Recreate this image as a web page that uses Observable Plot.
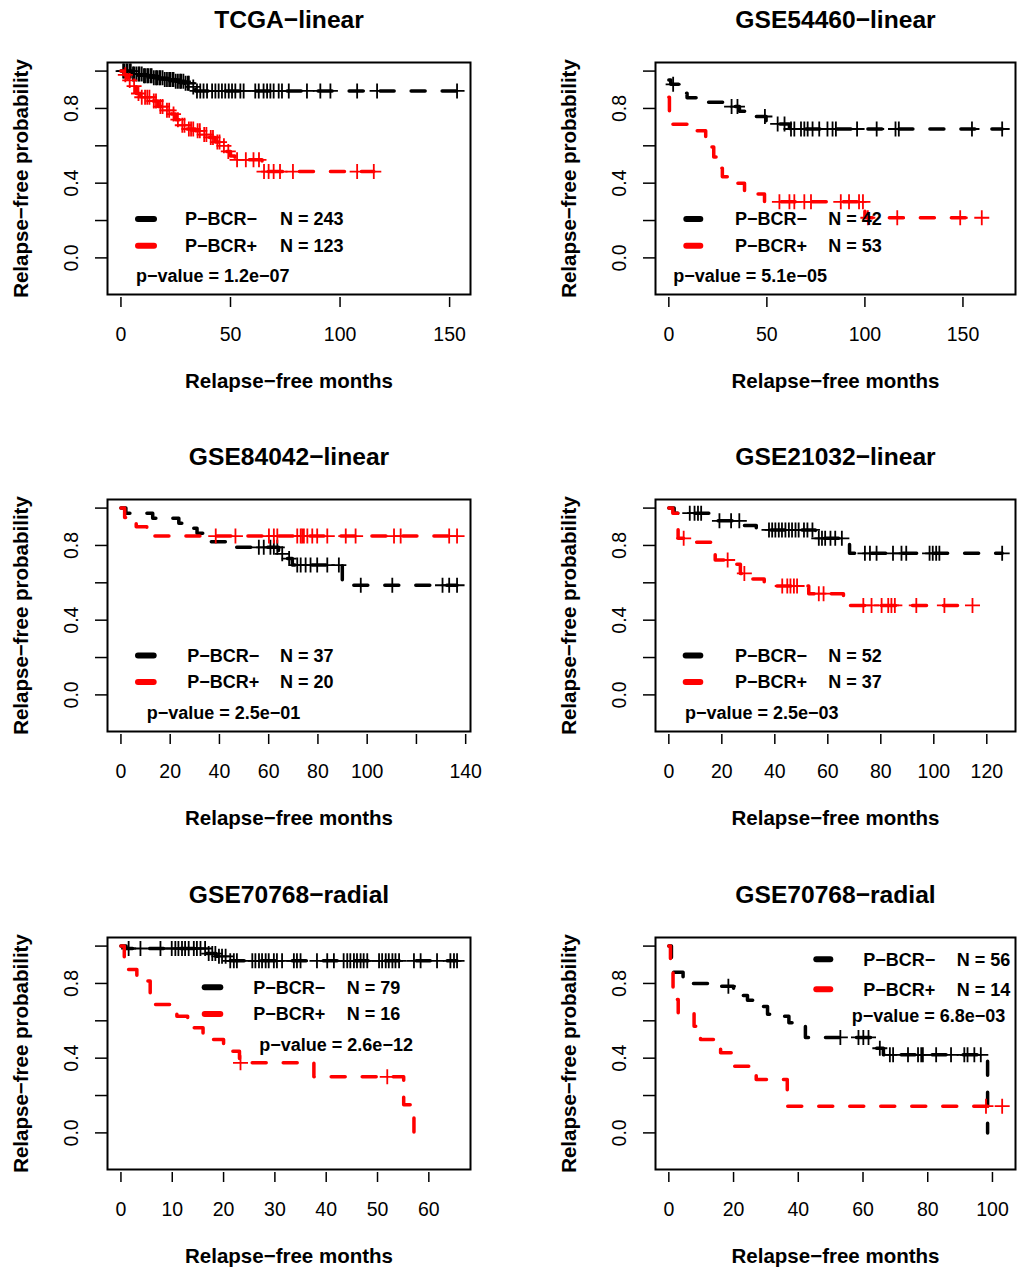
<!DOCTYPE html>
<html>
<head>
<meta charset="utf-8">
<script src="https://cdn.jsdelivr.net/npm/d3@7"></script>
<script src="https://cdn.jsdelivr.net/npm/@observablehq/plot@0.6"></script>
<style>
  html, body { margin: 0; padding: 0; background: #fff; overflow: hidden; }
  #page { position: relative; width: 1017px; height: 1270px; overflow: hidden; background: #fff; }
  .panel { position: absolute; }
</style>
</head>
<body>
<div id="page"></div>
<script>
// ---------- Kaplan–Meier curves: step times, survival after each step, censoring times ----------

// TCGA-linear
const tcgaNegTime = [0, 5, 10, 15, 20, 25, 29, 32, 34];
const tcgaNegSurv = [1, 0.985, 0.975, 0.965, 0.955, 0.945, 0.935, 0.915, 0.894];
const tcgaNegCensor = [1, 1.5, 2.5, 3, 4, 4.5, 5.5, 6, 7, 8, 8.5, 9.5, 10.5, 11, 12, 12.5, 13.5, 14, 15, 16, 16.5, 17.5, 18, 19, 20, 21, 22, 22.5, 23.5, 24, 25, 26, 27, 27.5, 28.5, 29.5, 30.5, 31, 33, 34.7, 36.2, 37.7, 39.3, 41.6, 43.1, 44.6, 46.1, 47.6, 49.2, 50.7, 52.2, 54.5, 56, 61.3, 62.9, 65.1, 66.7, 68.2, 69.7, 72, 73.5, 76.6, 84.9, 91, 95.6, 107.8, 116.9, 153.4];
const tcgaPosTime = [0, 1.5, 3, 5, 7, 9, 14, 17, 20, 23, 25, 27, 30, 34, 37, 40, 43, 46, 48, 50, 52, 64.4];
const tcgaPosSurv = [1, 0.98, 0.95, 0.92, 0.88, 0.86, 0.84, 0.81, 0.79, 0.77, 0.74, 0.71, 0.69, 0.68, 0.66, 0.645, 0.62, 0.6, 0.57, 0.545, 0.525, 0.462];
const tcgaPosCensor = [2, 4, 6, 8, 9.5, 11, 12, 13, 15, 16, 18, 19, 21, 22, 24, 26, 28, 29, 31, 32, 33, 35, 36, 38, 39, 41, 42, 44, 45, 47, 49, 53, 57, 60.5, 63, 65.3, 67.4, 69.7, 72.6, 78.5, 107.8, 115.4];

// GSE54460-linear
const gse54460NegTime = [0, 1, 5, 7, 9.3, 14, 30, 36, 41, 49.6, 61.5];
const gse54460NegSurv = [0.952, 0.929, 0.905, 0.881, 0.857, 0.833, 0.81, 0.785, 0.757, 0.717, 0.69];
const gse54460NegCensor = [2.2, 32, 35, 49, 55.5, 59, 62.3, 64, 67.4, 69.1, 70.8, 73.3, 76.7, 80.9, 83.5, 85.2, 96, 106, 115.6, 117.3, 154.6, 170];
const gse54460PosTime = [0, 0.3, 12, 18.8, 21, 22.9, 25, 27.3, 31, 38.6, 44, 48.8, 100];
const gse54460PosSurv = [0.86, 0.716, 0.68, 0.64, 0.593, 0.54, 0.48, 0.434, 0.4, 0.354, 0.342, 0.3, 0.215];
const gse54460PosCensor = [56.4, 61.5, 64, 69.1, 72.5, 87.7, 91.9, 97, 99, 101.5, 116.5, 148.6, 159.6];

// GSE84042-linear
const gse84042NegTime = [0, 2, 12.9, 23.5, 27, 30.9, 33.5, 44, 64, 67, 69.6, 89.9];
const gse84042NegSurv = [1, 0.973, 0.946, 0.919, 0.892, 0.865, 0.82, 0.79, 0.755, 0.73, 0.695, 0.587];
const gse84042NegCensor = [56, 58, 60.7, 62.1, 63.5, 65.5, 68.3, 71.6, 73, 75, 77, 79.7, 83.8, 88.5, 97.4, 110.2, 130.6, 133.3, 136.5];
const gse84042PosTime = [0, 1.5, 6.2, 10.5];
const gse84042PosSurv = [1, 0.95, 0.9, 0.85];
const gse84042PosCensor = [38.5, 46.5, 60.1, 62.1, 63.5, 71.6, 73, 73.6, 74.3, 75.7, 77.7, 79.7, 83.8, 91.3, 95.3, 110.9, 113.6, 133.3, 136.5];

// GSE21032-linear
const gse21032NegTime = [0, 2, 17.2, 27.8, 33, 55.3, 68.2];
const gse21032NegSurv = [1, 0.973, 0.932, 0.907, 0.883, 0.838, 0.758];
const gse21032NegCensor = [7.9, 9.7, 11, 12.2, 19.1, 23.5, 26.6, 37.8, 39, 40.2, 41.5, 42.7, 44, 45.3, 46.5, 47.8, 49, 51, 52.3, 54.2, 56.6, 57.8, 59, 61, 62.8, 65.3, 74, 75.9, 78.4, 84.6, 87.8, 89.6, 98.4, 99.6, 100.9, 102.1, 125.8];
const gse21032PosTime = [0, 1.5, 3.5, 9, 16, 17.5, 24, 27, 29.7, 36, 52.8, 65.9];
const gse21032PosSurv = [1, 0.973, 0.838, 0.817, 0.767, 0.722, 0.7, 0.65, 0.62, 0.583, 0.542, 0.479];
const gse21032PosCensor = [5.6, 22.2, 28.5, 42.8, 44.7, 45.9, 47.2, 48.4, 56.6, 58.4, 73.4, 76.5, 80.3, 82.8, 84, 85.3, 93.4, 104, 114.6];

// GSE70768-radial (left)
const gse70768aNegTime = [0, 1, 16.5, 18.5, 21];
const gse70768aNegSurv = [1, 0.987, 0.96, 0.945, 0.921];
const gse70768aNegCensor = [1.5, 3.8, 7.7, 9.9, 10.6, 11.2, 11.9, 12.5, 13.2, 14.2, 14.8, 15.5, 16.4, 17.1, 17.8, 18.4, 19.1, 19.7, 20.4, 21.3, 22, 22.6, 25.6, 26.2, 26.9, 27.5, 28.2, 28.8, 29.8, 30.4, 31.4, 33.7, 34.3, 35, 38.2, 40.2, 41.5, 43.4, 44.1, 44.7, 45.4, 46, 46.7, 47.3, 48, 50.3, 50.9, 51.6, 52.2, 52.9, 53.5, 54.2, 57.1, 58.4, 61.6, 64.2, 64.9, 65.5];
const gse70768aPosTime = [0, 0.65, 3.1, 5.7, 10.9, 13, 16, 20, 23.1, 37.6, 55.1, 57.1];
const gse70768aPosSurv = [1, 0.875, 0.8125, 0.6875, 0.625, 0.5625, 0.5, 0.4375, 0.375, 0.3, 0.15, 0];
const gse70768aPosCensor = [23.3, 51.9];

// GSE70768-radial (right)
const gse70768bNegTime = [0, 0.8, 4.4, 6, 14, 20, 24.3, 28, 30.5, 34, 37.1, 40, 42.2, 64.2, 66.3, 98.5];
const gse70768bNegSurv = [1, 0.86, 0.83, 0.8, 0.785, 0.735, 0.71, 0.677, 0.635, 0.624, 0.589, 0.57, 0.511, 0.453, 0.418, 0];
const gse70768bNegCensor = [18.4, 53, 58.6, 60.1, 61.7, 65.2, 68.3, 69.3, 73.9, 77, 78, 78.5, 82.6, 87.2, 91.3, 92.3, 94.4, 96.4];
const gse70768bPosTime = [0, 0.5, 1.3, 2.9, 7.8, 9.8, 16, 20, 27, 36.6];
const gse70768bPosSurv = [1, 0.857, 0.714, 0.643, 0.571, 0.5, 0.429, 0.357, 0.286, 0.143];
const gse70768bPosCensor = [98, 103];

// ---------- labels ----------
const panelTitles = ["TCGA−linear", "GSE54460−linear", "GSE84042−linear", "GSE21032−linear", "GSE70768−radial", "GSE70768−radial"];
const groupLabels = ["P−BCR−", "P−BCR+"];
const groupCounts = [[243, 123], [42, 53], [37, 20], [52, 37], [79, 16], [56, 14]];
const pValues = ["1.2e−07", "5.1e−05", "2.5e−01", "2.5e−03", "2.6e−12", "6.8e−03"];
const xTicks = [[0, 50, 100, 150], [0, 50, 100, 150], [0, 20, 40, 60, 80, 100, 120, 140], [0, 20, 40, 60, 80, 100, 120], [0, 10, 20, 30, 40, 50, 60], [0, 20, 40, 60, 80, 100]];
const xTickLabels = [["0", "50", "100", "150"], ["0", "50", "100", "150"], ["0", "20", "40", "60", "80", "100", "", "140"], ["0", "20", "40", "60", "80", "100", "120"], ["0", "10", "20", "30", "40", "50", "60"], ["0", "20", "40", "60", "80", "100"]];
const yTicks = [0, 0.2, 0.4, 0.6, 0.8, 1];
const yTickLabels = ["0.0", "", "0.4", "", "0.8", ""];
const xTitle = "Relapse−free months";
const yTitle = "Relapse−free probability";

// ---------- layout ----------
const FONT = "'Liberation Sans', Arial, Helvetica, sans-serif";
const BLACK = "#000000", RED = "#ff0000";
const Y_LIM = [-0.15, 1];
const PANEL_H = 437, BOX_TOP = 62, BOX_BOTTOM = 294, BOX_LEFT = 107;

const layout = [
  {left: 0,   top: 0,   width: 548, boxRight: 470, legend: {segX: [135, 157], rowY: [219, 245.7], labelX: 185, nX: 280, pX: 136, pY: 275.7}},
  {left: 548, top: 0,   width: 469, boxRight: 467, legend: {segX: [135.3, 155.3], rowY: [219, 245.7], labelX: 187, nX: 280.3, pX: 125.3, pY: 275.7}},
  {left: 0,   top: 437, width: 548, boxRight: 470, legend: {segX: [135, 156.7], rowY: [218.5, 245], labelX: 187.3, nX: 280, pX: 146.7, pY: 275.5}},
  {left: 548, top: 437, width: 469, boxRight: 467, legend: {segX: [134.7, 155.3], rowY: [218.5, 245], labelX: 187, nX: 280.3, pX: 137, pY: 275.5}},
  {left: 0,   top: 875, width: 548, boxRight: 470, legend: {segX: [201.7, 223.3], rowY: [112.3, 139], labelX: 253.3, nX: 346.7, pX: 259.3, pY: 170}},
  {left: 548, top: 875, width: 469, boxRight: 467, legend: {segX: [265.3, 285.3], rowY: [84.3, 114.3], labelX: 315.3, nX: 408.7, pX: 303.7, pY: 141}}
];

const curveData = [
  [[tcgaNegTime, tcgaNegSurv, tcgaNegCensor], [tcgaPosTime, tcgaPosSurv, tcgaPosCensor]],
  [[gse54460NegTime, gse54460NegSurv, gse54460NegCensor], [gse54460PosTime, gse54460PosSurv, gse54460PosCensor]],
  [[gse84042NegTime, gse84042NegSurv, gse84042NegCensor], [gse84042PosTime, gse84042PosSurv, gse84042PosCensor]],
  [[gse21032NegTime, gse21032NegSurv, gse21032NegCensor], [gse21032PosTime, gse21032PosSurv, gse21032PosCensor]],
  [[gse70768aNegTime, gse70768aNegSurv, gse70768aNegCensor], [gse70768aPosTime, gse70768aPosSurv, gse70768aPosCensor]],
  [[gse70768bNegTime, gse70768bNegSurv, gse70768bNegCensor], [gse70768bPosTime, gse70768bPosSurv, gse70768bPosCensor]]
];

// "+" censoring tick drawn as two strokes
const censorCross = {
  draw(ctx, size) {
    const r = Math.sqrt(size / Math.PI);
    ctx.moveTo(-r, 0); ctx.lineTo(r, 0);
    ctx.moveTo(0, -r); ctx.lineTo(0, r);
  }
};

// Step polyline (extended to last follow-up) and censor positions on the curve
function kmCurve([time, surv, censor]) {
  const lastT = time[time.length - 1];
  const end = Math.max(lastT, d3.max(censor) ?? lastT);
  const pts = time.map((t, i) => ({t, s: surv[i]}));
  if (end > lastT) pts.push({t: end, s: surv[surv.length - 1]});
  const at = (t) => surv[Math.max(0, d3.bisectRight(time, t) - 1)];
  return {pts, end, marks: censor.map((t) => ({t, s: at(t)}))};
}

function legendMark(lg, counts, pValue) {
  return () => {
    const g = d3.create("svg:g")
      .attr("font-family", FONT).attr("font-weight", "bold")
      .attr("font-size", 18).attr("fill", "#000").attr("text-anchor", "start");
    [BLACK, RED].forEach((color, i) => {
      const y = lg.rowY[i];
      g.append("line")
        .attr("x1", lg.segX[0] + 3).attr("x2", lg.segX[1] - 3)
        .attr("y1", y).attr("y2", y)
        .attr("stroke", color).attr("stroke-width", 6).attr("stroke-linecap", "round");
      g.append("text").attr("x", lg.labelX).attr("y", y).attr("dy", "0.35em").text(groupLabels[i]);
      g.append("text").attr("x", lg.nX).attr("y", y).attr("dy", "0.35em").text(`N = ${counts[i]}`);
    });
    g.append("text").attr("x", lg.pX).attr("y", lg.pY).attr("dy", "0.35em").text(`p−value = ${pValue}`);
    return g.node();
  };
}

function drawPanel(k) {
  const L = layout[k];
  const [neg, pos] = curveData[k].map(kmCurve);
  const M = Math.max(neg.end, pos.end);
  const ySpan = Y_LIM[1] - Y_LIM[0];
  const xLab = new Map(xTicks[k].map((t, i) => [t, xTickLabels[k][i]]));
  const yLab = new Map(yTicks.map((t, i) => [t, yTickLabels[i]]));

  const marks = [
    Plot.frame({stroke: "#000", strokeWidth: 2}),
    Plot.axisY({ticks: yTicks, tickSize: 12, tickPadding: 18, tickRotate: -90,
      tickFormat: (d) => yLab.get(d) ?? "", strokeWidth: 1.5, fontSize: 19.5, label: null}),
    Plot.axisX({ticks: xTicks[k], tickSize: 10, tickPadding: 20, dy: 3,
      tickFormat: (d) => xLab.get(d) ?? "", strokeWidth: 1.5, fontSize: 19.5, label: null})
  ];
  [[neg, BLACK], [pos, RED]].forEach(([c, color]) => {
    marks.push(Plot.line(c.pts, {x: "t", y: "s", curve: "step-after", stroke: color,
      strokeWidth: 3.5, strokeDasharray: "14,17"}));
    marks.push(Plot.dot(c.marks, {x: "t", y: "s", symbol: censorCross, r: 7.5,
      stroke: color, strokeWidth: 1.8, fill: "none"}));
  });
  marks.push(
    Plot.text([panelTitles[k]], {text: (d) => d, frameAnchor: "top", dy: -42, lineAnchor: "middle",
      textAnchor: "middle", fontSize: 24.6, fontWeight: "bold", fill: "#000"}),
    Plot.text([xTitle], {text: (d) => d, frameAnchor: "bottom", dy: 86.5, lineAnchor: "middle",
      textAnchor: "middle", fontSize: 20.5, fontWeight: "bold", fill: "#000"}),
    Plot.text([yTitle], {text: (d) => d, frameAnchor: "left", dx: -86, rotate: -90, lineAnchor: "middle",
      textAnchor: "middle", fontSize: 20.5, fontWeight: "bold", fill: "#000"}),
    legendMark(L.legend, groupCounts[k], pValues[k])
  );

  const svg = Plot.plot({
    width: L.width,
    height: PANEL_H,
    marginTop: BOX_TOP,
    marginBottom: PANEL_H - BOX_BOTTOM,
    marginLeft: BOX_LEFT,
    marginRight: L.width - L.boxRight,
    x: {domain: [-0.04 * M, 1.04 * M]},
    y: {domain: [Y_LIM[0] - 0.04 * ySpan, Y_LIM[1] + 0.04 * ySpan]},
    style: {fontFamily: FONT, fontSize: "19.5px", color: "#000", background: "transparent", overflow: "visible"},
    marks
  });

  const div = document.createElement("div");
  div.className = "panel";
  div.style.left = L.left + "px";
  div.style.top = L.top + "px";
  div.appendChild(svg);
  document.getElementById("page").appendChild(div);
}

for (let k = 0; k < 6; k++) drawPanel(k);
</script>
</body>
</html>
